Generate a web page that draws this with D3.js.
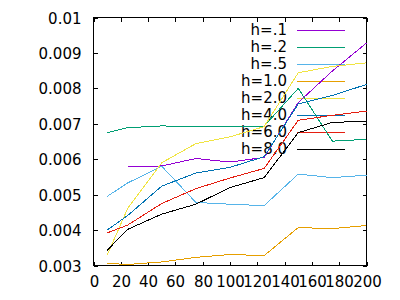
<!DOCTYPE html>
<html>
    <head>
        <style>
            body { margin: 0; background: #fff; }
            text { font: 15px "DejaVu Sans"; fill: #000; }
            .frame { fill: none; stroke: #000; stroke-width: 1; shape-rendering: crispEdges; }
            .tick { stroke: #000; stroke-width: 1; shape-rendering: crispEdges; }
            .curve { fill: none; stroke-width: 1; shape-rendering: crispEdges; }
        </style>
    <script src="https://d3js.org/d3.v7.min.js"></script>
    <script>
        // x positions of the samples
        var xValues = [10, 25, 50, 75, 100, 125, 150, 175, 200];

        var seriesNames = ["h=.1", "h=.2", "h=.5", "h=1.0", "h=2.0", "h=4.0", "h=6.0", "h=8.0"];
        var seriesColors = ["#9400d3", "#009e73", "#56b4e9", "#e69f00", "#f0e442", "#0072b2", "#e51e10", "#000000"];

        var h01 = [null, 0.00579, 0.00581, 0.00602, 0.00592, 0.00605, 0.0076, 0.00849, 0.00928];
        var h02 = [0.00675, 0.00689, 0.00694, 0.00692, 0.00692, 0.00693, 0.0080, 0.00651, 0.00656];
        var h05 = [0.00495, 0.00533, 0.0058, 0.00478, 0.00473, 0.00469, 0.00558, 0.00548, 0.00555];
        var h10 = [0.00306, 0.00303, 0.0031, 0.00323, 0.00331, 0.00328, 0.00407, 0.00404, 0.00413];
        var h20 = [0.00329, 0.00461, 0.0059, 0.00644, 0.00663, 0.00692, 0.00844, 0.00862, 0.00872];
        var h40 = [0.0040, 0.00441, 0.00524, 0.00561, 0.00577, 0.00607, 0.00756, 0.0078, 0.00811];
        var h60 = [0.00392, 0.00414, 0.00475, 0.00517, 0.00547, 0.00574, 0.0071, 0.00724, 0.00736];
        var h80 = [0.00343, 0.00402, 0.00445, 0.00473, 0.0052, 0.00548, 0.00675, 0.00704, 0.00707];

        var xTicks = [0, 20, 40, 60, 80, 100, 120, 140, 160, 180, 200];
        var yTicks = [0.003, 0.004, 0.005, 0.006, 0.007, 0.008, 0.009, 0.01];
        var yTickLabels = ["0.003", "0.004", "0.005", "0.006", "0.007", "0.008", "0.009", "0.01"];

        function drawChart () {
            var width = 400;
            var height = 300;
            var left = 93.5, right = 366.5, top = 17.5, bottom = 265.5;
            var tickLen = 4;

            var svg = d3.select('body')
                .append('svg')
                .attr("width", width)
                .attr("height", height);

            var x = d3.scaleLinear().domain([0, 200]).range([left, right]);
            var y = d3.scaleLinear().domain([0.003, 0.01]).range([bottom, top]);

            // ticks, inward on all four sides
            var ticks = svg.append("g");
            yTicks.forEach(function (v, i) {
                var py = Math.round(y(v)) + 0.5;
                ticks.append("line").attr("class", "tick")
                    .attr("x1", left).attr("x2", left + tickLen).attr("y1", py).attr("y2", py);
                ticks.append("line").attr("class", "tick")
                    .attr("x1", right - tickLen).attr("x2", right).attr("y1", py).attr("y2", py);
                ticks.append("text")
                    .attr("x", left - 12).attr("y", py + 5)
                    .attr("text-anchor", "end")
                    .text(yTickLabels[i]);
            });
            xTicks.forEach(function (v) {
                var px = Math.round(x(v)) + 0.5;
                ticks.append("line").attr("class", "tick")
                    .attr("x1", px).attr("x2", px).attr("y1", bottom).attr("y2", bottom - tickLen);
                ticks.append("line").attr("class", "tick")
                    .attr("x1", px).attr("x2", px).attr("y1", top).attr("y2", top + tickLen);
                ticks.append("text")
                    .attr("x", px).attr("y", bottom + 21)
                    .attr("text-anchor", "middle")
                    .text(v);
            });

            svg.append("rect").attr("class", "frame")
                .attr("x", left).attr("y", top)
                .attr("width", right - left).attr("height", bottom - top);

            // legend
            var key = svg.append("g");
            seriesNames.forEach(function (name, i) {
                var ky = 29.5 + i * 17.05;
                key.append("text")
                    .attr("x", 287).attr("y", ky + 5.5)
                    .attr("text-anchor", "end")
                    .text(name);
                key.append("line")
                    .attr("x1", 297).attr("x2", 345)
                    .attr("y1", Math.round(ky) + 0.5).attr("y2", Math.round(ky) + 0.5)
                    .attr("stroke", seriesColors[i])
                    .attr("shape-rendering", "crispEdges");
            });

            var allSeries = [h01, h02, h05, h10, h20, h40, h60, h80];
            var line = d3.line()
                .defined(function (d) { return d[1] != null; })
                .x(function (d) { return x(d[0]); })
                .y(function (d) { return y(d[1]); });

            svg.append("g").selectAll("path")
                .data(allSeries)
                .enter()
                .append("path")
                .attr("class", "curve")
                .attr("stroke", function (d, i) { return seriesColors[i]; })
                .attr("d", function (d) {
                    return line(xValues.map(function (xv, j) { return [xv, d[j]]; }));
                });
        }
    </script>
    </head>
    <body onload="drawChart()">
    </body>
</html>
